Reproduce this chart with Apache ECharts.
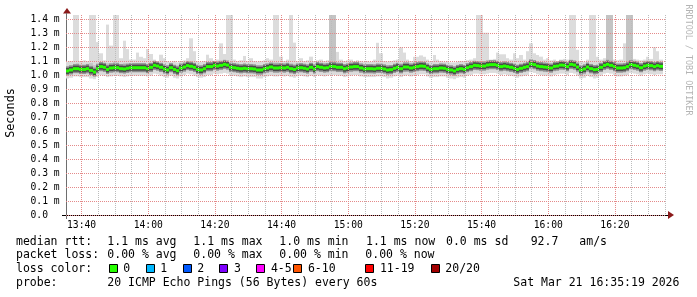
<!DOCTYPE html>
<html><head><meta charset="utf-8">
<script src="https://cdn.jsdelivr.net/npm/echarts@6/dist/echarts.min.js"></script>
<style>html,body{margin:0;padding:0;background:#fff}#c{width:697px;height:297px}</style>
</head><body><div id="c"></div>
<script>
// ---- data (ms) : one sample per minute starting 13:35:19 ----
const startLabel = '13:35:19';
const medianMs = [
1.029,1.036,1.045,1.045,1.040,1.040,1.045,1.033,1.021,1.045,
1.060,1.055,1.040,1.050,1.052,1.052,1.045,1.043,1.048,1.052,
1.052,1.052,1.052,1.052,1.045,1.055,1.069,1.064,1.055,1.043,
1.036,1.052,1.040,1.031,1.050,1.057,1.067,1.062,1.055,1.040,
1.036,1.045,1.060,1.060,1.069,1.064,1.069,1.076,1.071,1.055,
1.052,1.048,1.045,1.048,1.045,1.045,1.043,1.036,1.036,1.045,
1.050,1.057,1.050,1.050,1.052,1.050,1.055,1.045,1.040,1.050,
1.052,1.048,1.043,1.055,1.043,1.060,1.055,1.050,1.052,1.062,
1.060,1.055,1.055,1.045,1.050,1.057,1.060,1.060,1.050,1.043,
1.045,1.045,1.043,1.048,1.048,1.043,1.036,1.038,1.048,1.055,
1.045,1.057,1.057,1.050,1.055,1.060,1.064,1.062,1.050,1.040,
1.045,1.045,1.050,1.048,1.040,1.036,1.029,1.040,1.045,1.040,
1.052,1.060,1.069,1.067,1.064,1.064,1.071,1.074,1.074,1.069,
1.060,1.064,1.060,1.055,1.048,1.040,1.048,1.055,1.060,1.079,
1.074,1.064,1.060,1.057,1.055,1.050,1.062,1.064,1.071,1.069,
1.060,1.076,1.071,1.057,1.036,1.043,1.057,1.045,1.038,1.040,
1.055,1.069,1.076,1.069,1.060,1.050,1.050,1.052,1.060,1.074,
1.069,1.064,1.052,1.064,1.069,1.067,1.060,1.067,1.062];
const maxMs = [
1.095,1.10,1.43,1.43,1.10,1.105,1.10,1.43,1.43,1.235,
1.155,1.105,1.36,1.21,1.43,1.43,1.12,1.245,1.185,1.11,
1.11,1.16,1.13,1.12,1.185,1.15,1.11,1.10,1.145,1.12,
1.10,1.095,1.10,1.09,1.10,1.105,1.12,1.262,1.17,1.10,
1.095,1.10,1.145,1.12,1.10,1.11,1.226,1.15,1.43,1.43,
1.11,1.10,1.105,1.136,1.10,1.12,1.10,1.095,1.10,1.105,
1.12,1.11,1.43,1.43,1.131,1.10,1.11,1.43,1.231,1.10,
1.12,1.10,1.105,1.131,1.10,1.105,1.11,1.10,1.105,1.43,
1.43,1.165,1.11,1.10,1.105,1.11,1.10,1.105,1.10,1.095,
1.10,1.095,1.11,1.23,1.155,1.10,1.095,1.10,1.105,1.11,
1.198,1.16,1.11,1.10,1.13,1.13,1.14,1.13,1.11,1.10,
1.143,1.11,1.10,1.095,1.10,1.09,1.09,1.095,1.10,1.10,
1.105,1.11,1.12,1.43,1.43,1.302,1.302,1.11,1.115,1.16,
1.148,1.148,1.12,1.11,1.155,1.12,1.143,1.11,1.17,1.226,
1.155,1.143,1.131,1.11,1.12,1.105,1.11,1.10,1.11,1.115,
1.11,1.43,1.43,1.18,1.10,1.095,1.11,1.43,1.43,1.13,
1.11,1.12,1.43,1.43,1.11,1.105,1.11,1.226,1.43,1.43,
1.115,1.11,1.105,1.11,1.13,1.115,1.198,1.17,1.11];
const upperMs = [
1.065,1.07,1.08,1.085,1.075,1.075,1.08,1.085,1.07,1.085,
1.09,1.085,1.085,1.085,1.095,1.09,1.08,1.085,1.085,1.08,
1.08,1.085,1.085,1.08,1.08,1.085,1.095,1.09,1.085,1.075,
1.07,1.08,1.075,1.07,1.08,1.085,1.095,1.10,1.085,1.075,
1.07,1.08,1.09,1.09,1.095,1.09,1.10,1.105,1.10,1.09,
1.085,1.08,1.075,1.085,1.075,1.08,1.075,1.07,1.07,1.075,
1.08,1.085,1.09,1.09,1.085,1.08,1.085,1.085,1.08,1.08,
1.085,1.08,1.075,1.085,1.075,1.09,1.085,1.08,1.085,1.43,
1.43,1.09,1.085,1.075,1.08,1.085,1.09,1.09,1.08,1.075,
1.075,1.075,1.075,1.085,1.08,1.075,1.07,1.07,1.08,1.085,
1.085,1.09,1.09,1.08,1.09,1.09,1.095,1.09,1.08,1.07,
1.08,1.075,1.08,1.08,1.07,1.07,1.065,1.07,1.075,1.07,
1.08,1.09,1.095,1.10,1.10,1.10,1.10,1.10,1.10,1.095,
1.09,1.095,1.09,1.085,1.08,1.075,1.08,1.085,1.09,1.105,
1.10,1.095,1.09,1.085,1.085,1.08,1.09,1.09,1.10,1.095,
1.09,1.10,1.10,1.085,1.07,1.075,1.085,1.08,1.07,1.075,
1.085,1.095,1.43,1.43,1.09,1.08,1.08,1.085,1.43,1.43,
1.095,1.09,1.085,1.09,1.095,1.09,1.09,1.095,1.09];
const lowerMs = [
1.005,1.01,1.015,1.015,1.01,1.01,1.01,1.0,0.995,1.01,
1.025,1.02,1.01,1.015,1.02,1.02,1.015,1.01,1.015,1.02,
1.02,1.02,1.02,1.02,1.015,1.02,1.035,1.03,1.02,1.01,
1.005,1.02,1.005,1.0,1.015,1.025,1.035,1.03,1.02,1.01,
1.005,1.01,1.025,1.025,1.035,1.03,1.035,1.04,1.035,1.02,
1.02,1.015,1.01,1.015,1.01,1.01,1.01,1.0,1.0,1.01,
1.015,1.02,1.015,1.015,1.02,1.015,1.02,1.01,1.005,1.015,
1.02,1.015,1.01,1.02,1.01,1.025,1.02,1.015,1.02,1.025,
1.025,1.02,1.02,1.01,1.015,1.02,1.025,1.025,1.015,1.01,
1.01,1.01,1.01,1.015,1.015,1.01,1.0,1.005,1.015,1.02,
1.01,1.02,1.025,1.015,1.02,1.025,1.03,1.03,1.015,1.005,
1.01,1.01,1.015,1.015,1.005,1.0,0.995,1.005,1.01,1.005,
1.02,1.025,1.035,1.035,1.03,1.03,1.035,1.04,1.04,1.035,
1.025,1.03,1.025,1.02,1.015,1.005,1.015,1.02,1.025,1.045,
1.04,1.03,1.025,1.02,1.02,1.015,1.025,1.03,1.035,1.035,
1.025,1.04,1.035,1.02,1.0,1.005,1.02,1.01,1.0,1.005,
1.02,1.035,1.04,1.035,1.025,1.015,1.015,1.02,1.025,1.04,
1.035,1.03,1.02,1.03,1.035,1.03,1.025,1.03,1.03];
const minMs = [
0.975,0.98,0.99,0.99,0.985,0.985,0.985,0.975,0.97,0.985,
1.0,0.995,0.985,0.99,0.995,0.995,0.99,0.985,0.99,0.995,
0.995,0.995,0.995,0.995,0.99,0.995,1.01,1.005,0.995,0.985,
0.98,0.995,0.98,0.975,0.99,1.0,1.01,1.005,0.995,0.985,
0.98,0.985,1.0,1.0,1.01,1.005,1.01,1.015,1.01,0.995,
0.995,0.99,0.985,0.99,0.985,0.985,0.985,0.975,0.975,0.985,
0.99,0.995,0.99,0.99,0.995,0.99,0.995,0.985,0.98,0.99,
0.995,0.99,0.985,0.995,0.985,1.0,0.995,0.99,0.995,1.0,
1.0,0.995,0.995,0.985,0.99,0.995,1.0,1.0,0.99,0.985,
0.985,0.985,0.985,0.99,0.99,0.985,0.975,0.98,0.99,0.995,
0.985,0.995,1.0,0.99,0.995,1.0,1.005,1.005,0.99,0.98,
0.985,0.985,0.99,0.99,0.98,0.975,0.97,0.98,0.985,0.98,
0.995,1.0,1.01,1.01,1.005,1.005,1.01,1.015,1.015,1.01,
1.0,1.005,1.0,0.995,0.99,0.98,0.99,0.995,1.0,1.02,
1.015,1.005,1.0,0.995,0.995,0.99,1.0,1.005,1.01,1.01,
1.0,1.015,1.01,0.995,0.975,0.98,0.995,0.985,0.975,0.98,
0.995,1.01,1.015,1.01,1.0,0.99,0.99,0.995,1.0,1.015,
1.01,1.005,0.995,1.005,1.01,1.005,1.0,1.005,1.005];

const xTickValues = [40, 60, 80, 100, 120, 140, 160, 180, 200];          // minutes after 13:00
const xTickLabels = ['13:40','14:00','14:20','14:40','15:00','15:20','15:40','16:00','16:20'];
const xMinorValues = [45,50,55,65,70,75,85,90,95,105,110,115,125,130,135,145,150,155,165,170,175,185,190,195,205,210,215];
const yTickValues = [0,0.1,0.2,0.3,0.4,0.5,0.6,0.7,0.8,0.9,1.0,1.1,1.2,1.3,1.4];
const yTickLabels = ['0.0','0.1 m','0.2 m','0.3 m','0.4 m','0.5 m','0.6 m','0.7 m','0.8 m','0.9 m','1.0 m','1.1 m','1.2 m','1.3 m','1.4 m'];

const rttCells = ['1.1 ms avg','1.1 ms max','1.0 ms min','1.1 ms now','0.0 ms sd','92.7','am/s'];
const lossCells = ['0.00 % avg','0.00 % max','0.00 % min','0.00 % now'];
const lossLabels = ['0','1','2','3','4-5','6-10','11-19','20/20'];
const lossColors = ['#26ff00','#00b8ff','#0059ff','#7e00ff','#ff00ff','#ff5500','#ff0000','#a10000'];
const probeText = '20 ICMP Echo Pings (56 Bytes) every 60s';
const dateText = 'Sat Mar 21 16:35:19 2026';

// ---- build ----
const T0 = 35 + 19/60;        // 13:35:19
const T1 = T0 + 180;
const MONO = '"DejaVu Sans Mono", monospace';

const smokeData = medianMs.map((m, i) => [T0 + i, minMs[i], lowerMs[i], upperMs[i], maxMs[i], m]);

function renderSmoke(params, api) {
  const t = api.value(0);
  const xa = Math.round(api.coord([t, 0])[0]);
  const xb = Math.round(api.coord([t + 1, 0])[0]);
  const w = xb - xa;
  const Y = v => api.coord([t, v])[1];
  const yMin = Y(api.value(1)), yLo = Y(api.value(2)), yHi = Y(api.value(3)), yMax = Y(api.value(4)), yMed = Y(api.value(5));
  return {type: 'group', children: [
    {type: 'rect', shape: {x: xa, y: yMax, width: w, height: yMin - yMax}, style: {fill: '#dcdcdc'}},
    {type: 'rect', shape: {x: xa, y: yHi, width: w, height: yLo - yHi}, style: {fill: '#c4c4c4'}},
    {type: 'rect', shape: {x: xa, y: yMed - 4.5, width: w, height: 9}, style: {fill: '#8e8e8e'}},
    {type: 'rect', shape: {x: xa, y: yMed - 3, width: w, height: 6}, style: {fill: '#4a4a4a'}},
    {type: 'rect', shape: {x: xa, y: yMed - 1.5, width: w, height: 3}, style: {fill: lossColors[0]}}
  ]};
}

const graphics = [];
function txt(x, y, s, opt) {
  graphics.push(Object.assign({type: 'text', x: x, y: y, silent: true,
    style: {text: s, font: '11.5px ' + MONO, fill: '#000', align: 'left', verticalAlign: 'middle'}}, opt || {}));
}
// axis titles
txt(11, 113, 'Seconds', {rotation: Math.PI / 2, style: {text: 'Seconds', font: '11.8px ' + MONO, fill: '#000', align: 'center', verticalAlign: 'middle'}});
txt(688, 60, 'RRDTOOL / TOBI OETIKER', {rotation: -Math.PI / 2, style: {text: 'RRDTOOL / TOBI OETIKER', font: '8.4px ' + MONO, fill: '#b4b4b4', align: 'center', verticalAlign: 'middle'}});
// legend rows
const rowY = [241.7, 255.3, 269.3, 283.3];
txt(16, rowY[0], 'median rtt:');
[107.3, 193.3, 279.3, 366, 446, 530.7, 579.3].forEach((x, i) => txt(x, rowY[0], rttCells[i]));
txt(16, rowY[1], 'packet loss:');
[107.3, 193.3, 279.3, 365.3].forEach((x, i) => txt(x, rowY[1], lossCells[i]));
txt(16, rowY[2], 'loss color:');
[108.7, 145.7, 182.7, 219.3, 256.3, 293.3, 365.3, 430.7].forEach((x, i) => {
  graphics.push({type: 'rect', silent: true, shape: {x: Math.round(x) + 0.5, y: 264.5, width: 8, height: 8},
    style: {fill: lossColors[i], stroke: '#000', lineWidth: 1}});
  txt(x + 14.6, rowY[2], lossLabels[i]);
});
txt(16, rowY[3], 'probe:');
txt(107.3, rowY[3], probeText);
txt(513.3, rowY[3], dateText);
// axis arrows and extensions
graphics.push({type: 'polygon', silent: true, shape: {points: [[63, 13.5], [71, 13.5], [67, 8]]}, style: {fill: '#8b1a1a'}});
graphics.push({type: 'polygon', silent: true, shape: {points: [[668, 211], [668, 219], [674, 215]]}, style: {fill: '#8b1a1a'}});
graphics.push({type: 'line', silent: true, shape: {x1: 62, y1: 215.5, x2: 668, y2: 215.5}, style: {stroke: '#000', lineWidth: 1}});
graphics.push({type: 'line', silent: true, shape: {x1: 66.5, y1: 13, x2: 66.5, y2: 219}, style: {stroke: '#6e6e6e', lineWidth: 1}});

const chart = echarts.init(document.getElementById('c'), null, {renderer: 'canvas', width: 697, height: 297});
chart.setOption({
  animation: false,
  backgroundColor: '#ffffff',
  grid: {left: 66, right: 31, top: 15, bottom: 82, containLabel: false, outerBoundsMode: 'none'},
  xAxis: [{
    type: 'value', min: T0, max: T1, z: 6,
    axisLine: {show: false},
    axisTick: {show: false, customValues: xTickValues},
    axisLabel: {customValues: xTickValues, margin: 5, color: '#000', fontFamily: MONO, fontSize: 9.7,
      formatter: v => xTickLabels[xTickValues.indexOf(Math.round(v))] || ''},
    splitLine: {show: true, lineStyle: {color: '#e48a8a', width: 1, type: [1, 1]}}
  }, {
    type: 'value', min: T0, max: T1, z: 5, gridIndex: 0, position: 'bottom',
    axisLine: {show: false},
    axisTick: {show: false, customValues: xMinorValues},
    axisLabel: {show: false, customValues: xMinorValues},
    splitLine: {show: true, lineStyle: {color: '#bcbcbc', width: 1, type: [1, 1]}}
  }],
  yAxis: {
    type: 'value', min: 0, max: 200 / 140, z: 6,
    axisLine: {show: false},
    axisTick: {show: false, customValues: yTickValues},
    axisLabel: {customValues: yTickValues, align: 'left', margin: 35.5, color: '#000', fontFamily: MONO, fontSize: 9.7,
      formatter: v => yTickLabels[Math.round(v * 10)] || ''},
    splitLine: {show: true, lineStyle: {color: '#e48a8a', width: 1, type: [1, 1]}}
  },
  series: [{
    type: 'custom', xAxisIndex: 0, yAxisIndex: 0, clip: true, silent: true,
    renderItem: renderSmoke, data: smokeData, encode: {x: 0, y: 5}
  }],
  graphic: {elements: graphics}
});
</script></body></html>
